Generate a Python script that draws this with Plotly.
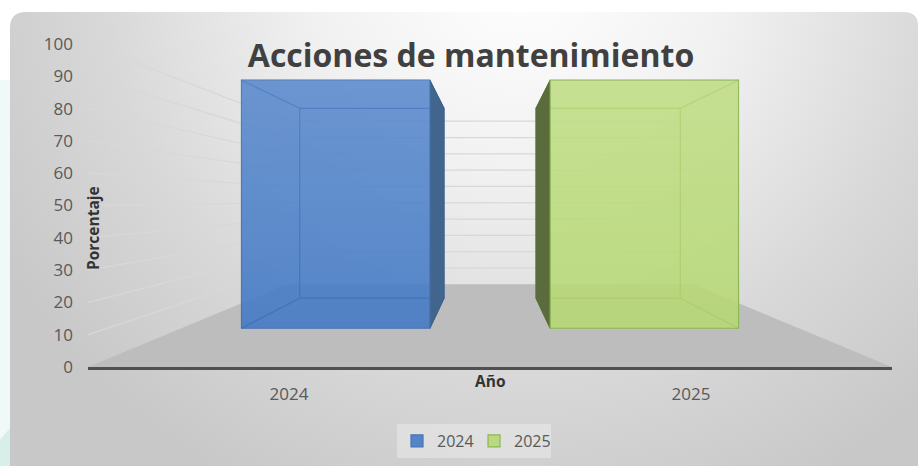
import numpy as np
import plotly.graph_objects as go

# ---------------- data ----------------
years = ["2024", "2025"]
values = [100, 100]
y_ticks = [0, 10, 20, 30, 40, 50, 60, 70, 80, 90, 100]
front_colors = ["rgba(64,120,196,0.87)", "rgba(182,216,114,0.87)"]
edge_colors = ["#4776b4", "#8db653"]
side_colors = ["#41658d", "#5a6c3b"]
hidden_colors = ["rgba(35,75,135,1)", "rgba(95,135,45,1)"]

# ---------------- perspective (style) ----------------
XV, YV = 0.5, 51.7            # vanishing point in front-plane axis units
S_BAR_FRONT, S_BAR_BACK, S_WALL = 0.768, 0.588, 0.505
HALF_W = 0.305
X_MIN, X_MAX = -0.5, 1.5
Y_MIN, Y_MAX = 0, 100

W, H = 920, 466
FONT = "Open Sans"


def proj(x, y, s):
    return XV + s * (x - XV), YV + s * (y - YV)


def poly(points):
    xs = [p[0] for p in points] + [points[0][0]]
    ys = [p[1] for p in points] + [points[0][1]]
    return xs, ys


fig = go.Figure()

# ---------------- background (pixel subplot) ----------------
EDGE_GRAY = "#c8c8c8"
bx, by = poly([(10, 12), (918, 12), (918, 466), (10, 466)])
fig.add_trace(go.Scatter(x=bx, y=by, fill="toself", fillcolor=EDGE_GRAY,
                         mode="lines", line=dict(width=0), hoverinfo="skip",
                         showlegend=False, xaxis="x", yaxis="y"))
t = np.linspace(0, 2 * np.pi, 240)
ex = 520 + 600 * np.cos(t)
ey = -30 + 580 * np.sin(t)
fig.add_trace(go.Scatter(x=ex, y=ey, fill="toself", mode="lines", line=dict(width=0),
                         fillgradient=dict(type="radial",
                                           colorscale=[[0, "#ffffff"], [0.35, "#f1f1f1"],
                                                       [0.7, "#d8d8d8"], [1, EDGE_GRAY]]),
                         hoverinfo="skip", showlegend=False, xaxis="x", yaxis="y"))

# ---------------- floor ----------------
fx, fy = poly([proj(X_MIN, 0, 1), proj(X_MAX, 0, 1), proj(X_MAX, 0, S_WALL), proj(X_MIN, 0, S_WALL)])
fig.add_trace(go.Scatter(x=fx, y=fy, fill="toself", fillcolor="#bdbdbd", mode="lines",
                         line=dict(width=0), hoverinfo="skip", showlegend=False,
                         xaxis="x2", yaxis="y2"))

# ---------------- wall gridlines ----------------
gx, gy = [], []
for v in y_ticks[1:]:
    for p in (proj(X_MIN, v, 1), proj(X_MIN, v, S_WALL), proj(X_MAX, v, S_WALL)):
        gx.append(p[0]); gy.append(p[1])
    gx.append(None); gy.append(None)
fig.add_trace(go.Scatter(x=gx, y=gy, mode="lines", line=dict(color="#d8d8d8", width=1.3),
                         hoverinfo="skip", showlegend=False, xaxis="x2", yaxis="y2"))

# ---------------- bar hidden edges and side faces ----------------
for i, v in enumerate(values):
    x0, x1 = i - HALF_W, i + HALF_W
    corners = [(x0, 0), (x1, 0), (x1, v), (x0, v)]
    hx, hy = poly([proj(cx, cy, S_BAR_BACK) for cx, cy in corners])
    hx, hy = list(hx) + [None], list(hy) + [None]
    for cx, cy in corners:
        a, b = proj(cx, cy, S_BAR_FRONT), proj(cx, cy, S_BAR_BACK)
        hx += [a[0], b[0], None]; hy += [a[1], b[1], None]
    fig.add_trace(go.Scatter(x=hx, y=hy, mode="lines", line=dict(color=hidden_colors[i], width=1.2),
                             hoverinfo="skip", showlegend=False, xaxis="x2", yaxis="y2"))
    xs = x1 if x1 < XV else x0
    sx, sy = poly([proj(xs, 0, S_BAR_FRONT), proj(xs, 0, S_BAR_BACK),
                   proj(xs, v, S_BAR_BACK), proj(xs, v, S_BAR_FRONT)])
    fig.add_trace(go.Scatter(x=sx, y=sy, fill="toself", fillcolor=side_colors[i], mode="lines",
                             line=dict(color=side_colors[i], width=1), hoverinfo="skip",
                             showlegend=False, xaxis="x2", yaxis="y2"))

# ---------------- bar front faces (bar plane axes) ----------------
for i, v in enumerate(values):
    fig.add_trace(go.Bar(x=[i], y=[v], base=0, width=2 * HALF_W, name=years[i],
                         marker=dict(color=front_colors[i], line=dict(color=edge_colors[i], width=1.2)),
                         xaxis="x3", yaxis="y3", hoverinfo="skip"))
for i, v in enumerate(values):
    rx, ry = poly([(i - HALF_W, 0), (i + HALF_W, 0), (i + HALF_W, v), (i - HALF_W, v)])
    fig.add_trace(go.Scatter(x=rx, y=ry, fill="toself", mode="lines", line=dict(width=0),
                             fillgradient=dict(type="vertical",
                                               colorscale=[[0, "rgba(255,255,255,0)"],
                                                           [1, "rgba(255,255,255,0.12)"]]),
                             hoverinfo="skip", showlegend=False, xaxis="x3", yaxis="y3"))

# bar-plane axis ranges: the same pixels as the front plane, seen at S_BAR_FRONT
x3_range = [XV + (X_MIN - XV) / S_BAR_FRONT, XV + (X_MAX - XV) / S_BAR_FRONT]
y3_range = [YV + (Y_MIN - YV) / S_BAR_FRONT, YV + (Y_MAX - YV) / S_BAR_FRONT]

fig.update_layout(
    width=W, height=H, margin=dict(l=0, r=0, t=0, b=0, autoexpand=False),
    paper_bgcolor="white", plot_bgcolor="rgba(0,0,0,0)",
    barmode="overlay",
    title=dict(text="<b>Acciones de mantenimiento</b>", x=471 / W, xanchor="center",
               y=(H - 56) / H, yanchor="middle", automargin=False,
               font=dict(family=FONT, size=32, color="#404040")),
    xaxis=dict(domain=[10 / W, 918 / W], range=[10, 918], visible=False, fixedrange=True,
               automargin=False),
    yaxis=dict(domain=[0, (H - 12) / H], range=[466, 12], visible=False, fixedrange=True,
               automargin=False),
    xaxis2=dict(domain=[88 / W, 892 / W], range=[X_MIN, X_MAX], anchor="y2", automargin=False,
                tickvals=[0, 1], ticktext=years, ticks="", showgrid=False, zeroline=False,
                showline=True, linecolor="#4f4f4f", linewidth=3, ticklabelstandoff=10,
                tickfont=dict(family=FONT, size=17, color="#595959")),
    yaxis2=dict(domain=[(H - 367) / H, (H - 44) / H], range=[Y_MIN, Y_MAX], anchor="x2",
                automargin=False,
                tickvals=y_ticks, ticks="", showgrid=False, zeroline=False, showline=False,
                ticklabelstandoff=14, tickfont=dict(family=FONT, size=17, color="#595959")),
    xaxis3=dict(overlaying="x2", range=x3_range, visible=False, anchor="y3", automargin=False),
    yaxis3=dict(overlaying="y2", range=y3_range, visible=False, anchor="x3", automargin=False),
    legend=dict(orientation="h", x=397 / W, xanchor="left", y=(H - 441) / H, yanchor="middle",
                bgcolor="rgba(255,255,255,0.3)", font=dict(family=FONT, size=16, color="#595959"),
                itemwidth=30, entrywidth=32, entrywidthmode="pixels"),
    annotations=[
        dict(text="<b>Porcentaje</b>", x=93 / W, y=(H - 228) / H, xref="paper", yref="paper",
             xanchor="center", yanchor="middle",
             textangle=-90, showarrow=False, font=dict(family=FONT, size=15.5, color="#333333")),
        dict(text="<b>Año</b>", x=490 / W, y=(H - 381) / H, xref="paper", yref="paper",
             xanchor="center", yanchor="middle",
             showarrow=False, font=dict(family=FONT, size=15.5, color="#333333")),
    ],
    shapes=[
        dict(type="rect", xref="paper", yref="paper", x0=0, x1=10 / W, y0=0, y1=(H - 80) / H,
             fillcolor="#f1f8f8", line=dict(width=0), layer="below"),
        dict(type="path", xref="paper", yref="paper",
             path=f"M 0,0 L 0,{26 / H} L {10 / W},{38 / H} L {10 / W},0 Z",
             fillcolor="#d8eee8", line=dict(width=0), layer="below"),
        dict(type="path", xref="x", yref="y", path="M 10,12 L 26,12 Q 10,12 10,28 Z",
             fillcolor="white", line=dict(width=0), layer="above"),
        dict(type="path", xref="x", yref="y", path="M 918,12 L 918,26 Q 918,12 904,12 Z",
             fillcolor="white", line=dict(width=0), layer="above"),
    ],
)

fig.write_html("out.html", config={"displayModeBar": False},
               post_script="document.body.style.margin='0';document.body.style.overflow='hidden';")
